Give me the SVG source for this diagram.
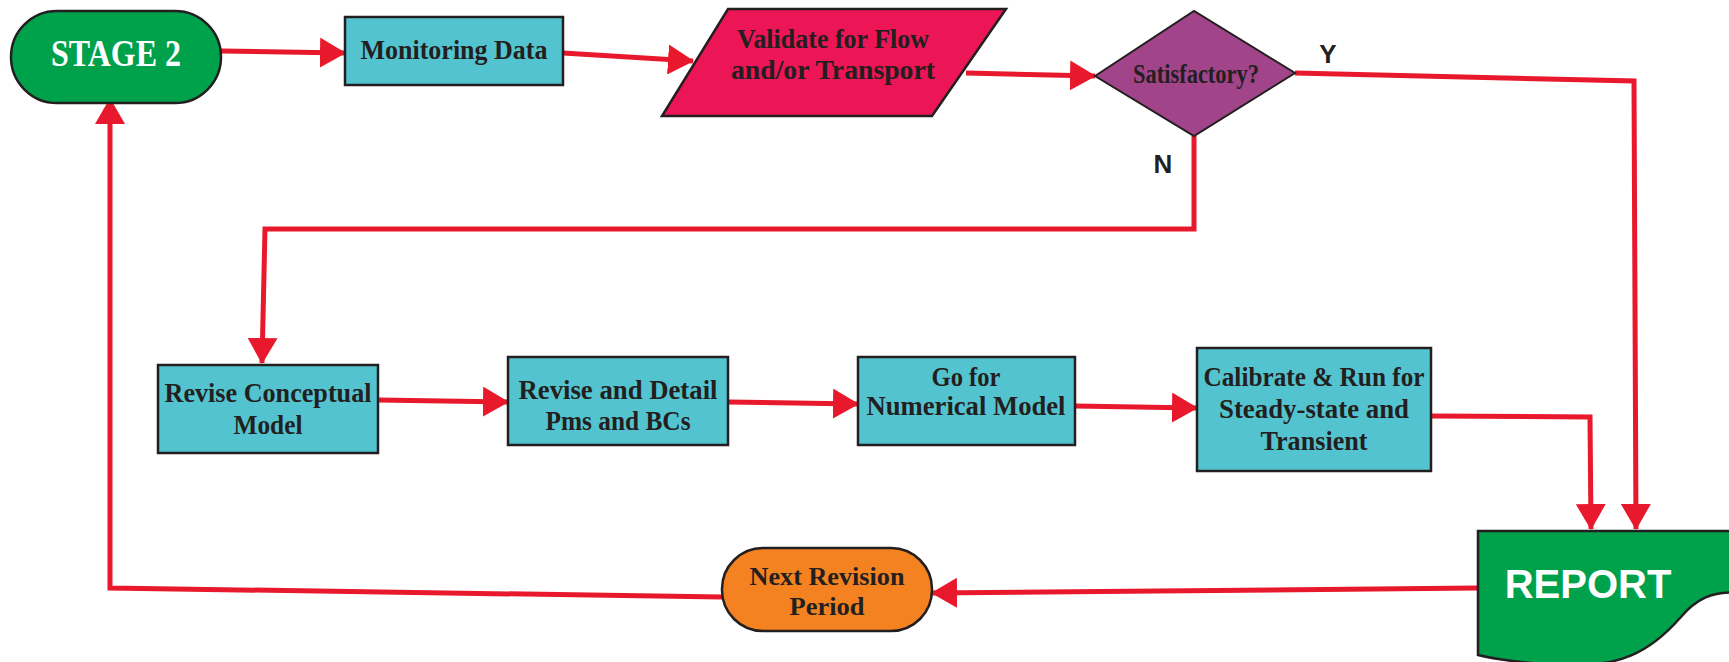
<svg xmlns="http://www.w3.org/2000/svg" width="1729" height="662" viewBox="0 0 1729 662">
<defs>
<style>
.bx{fill:#53C4CF;stroke:#231F20;stroke-width:2.5}
.t{font-family:"Liberation Serif",serif;font-weight:bold;fill:#231F20;text-anchor:middle}
.w{font-family:"Liberation Serif",serif;font-weight:bold;fill:#ffffff;text-anchor:middle}
.lbl{font-family:"Liberation Sans",Arial,sans-serif;font-weight:bold;fill:#231F20;text-anchor:middle}
.c{fill:none;stroke:#E8192C;stroke-width:5}
</style>
<marker id="ah" viewBox="0 0 26 30" refX="25" refY="15" markerWidth="26" markerHeight="30" orient="auto" markerUnits="userSpaceOnUse"><path d="M0,0 L26,15 L0,30 Z" fill="#E8192C"/></marker>
</defs>
<rect width="1729" height="662" fill="#ffffff"/>
<g id="connectors">
<path class="c" d="M221,51 L345,53" marker-end="url(#ah)"/>
<path class="c" d="M563,53 L693,61" marker-end="url(#ah)"/>
<path class="c" d="M966,73 L1095,76" marker-end="url(#ah)"/>
<path class="c" d="M1295,73 L1634,81 L1636,529" marker-end="url(#ah)"/>
<path class="c" d="M1194,136 L1194,229 L265,229 L262,363" marker-end="url(#ah)"/>
<path class="c" d="M378,400 L508,402" marker-end="url(#ah)"/>
<path class="c" d="M728,402 L858,404" marker-end="url(#ah)"/>
<path class="c" d="M1075,406 L1197,408" marker-end="url(#ah)"/>
<path class="c" d="M1431,416 L1590,417 L1591,529" marker-end="url(#ah)"/>
<path class="c" d="M1478,588 L932,593" marker-end="url(#ah)"/>
<path class="c" d="M722,597 L110,588 L110,99" marker-end="url(#ah)"/>
</g>
<g id="stage2">
<rect x="11" y="11" width="210" height="92" rx="46" fill="#00A14B" stroke="#231F20" stroke-width="2.5"/>
<text class="w" x="116" y="66" font-size="38" textLength="130" lengthAdjust="spacingAndGlyphs">STAGE 2</text>
</g>
<g id="monitoring">
<rect class="bx" x="345" y="17" width="218" height="68"/>
<text class="t" x="454" y="59" font-size="28" textLength="187" lengthAdjust="spacingAndGlyphs">Monitoring Data</text>
</g>
<g id="validate">
<polygon points="728,9 1006,9 932,116 662,116" fill="#EC1556" stroke="#231F20" stroke-width="2.5"/>
<text class="t" x="833" y="48" font-size="28" textLength="192" lengthAdjust="spacingAndGlyphs">Validate for Flow</text>
<text class="t" x="833" y="79" font-size="28" textLength="204" lengthAdjust="spacingAndGlyphs">and/or Transport</text>
</g>
<g id="satisfactory">
<polygon points="1095,76 1194,11 1295,73 1194,136" fill="#A1448A" stroke="#231F20" stroke-width="2"/>
<text class="t" x="1196" y="83" font-size="27" textLength="126" lengthAdjust="spacingAndGlyphs">Satisfactory?</text>
</g>
<text class="lbl" x="1328" y="63" font-size="26">Y</text>
<text class="lbl" x="1163" y="173" font-size="26">N</text>
<g id="reviseConceptual">
<rect class="bx" x="158" y="365" width="220" height="88"/>
<text class="t" x="268" y="402" font-size="28" textLength="207" lengthAdjust="spacingAndGlyphs">Revise Conceptual</text>
<text class="t" x="268" y="434" font-size="28" textLength="69" lengthAdjust="spacingAndGlyphs">Model</text>
</g>
<g id="reviseDetail">
<rect class="bx" x="508" y="357" width="220" height="88"/>
<text class="t" x="618" y="399" font-size="28" textLength="199" lengthAdjust="spacingAndGlyphs">Revise and Detail</text>
<text class="t" x="618" y="430" font-size="28" textLength="145" lengthAdjust="spacingAndGlyphs">Pms and BCs</text>
</g>
<g id="numerical">
<rect class="bx" x="858" y="357" width="217" height="88"/>
<text class="t" x="966" y="386" font-size="28" textLength="69" lengthAdjust="spacingAndGlyphs">Go for</text>
<text class="t" x="966" y="415" font-size="28" textLength="199" lengthAdjust="spacingAndGlyphs">Numerical Model</text>
</g>
<g id="calibrate">
<rect class="bx" x="1197" y="348" width="234" height="123"/>
<text class="t" x="1314" y="386" font-size="28" textLength="221" lengthAdjust="spacingAndGlyphs">Calibrate &amp; Run for</text>
<text class="t" x="1314" y="418" font-size="28" textLength="190" lengthAdjust="spacingAndGlyphs">Steady-state and</text>
<text class="t" x="1314" y="450" font-size="28" textLength="107" lengthAdjust="spacingAndGlyphs">Transient</text>
</g>
<g id="report">
<path d="M1478,531 L1740,531 L1740,593 C1712,590 1695,600 1680,618 C1650,652 1620,668 1560,665 C1520,663 1495,659 1478,655 Z" fill="#00A14B" stroke="#231F20" stroke-width="2.5"/>
<text x="1588" y="598" font-family="Liberation Sans, Arial, sans-serif" font-weight="bold" font-size="40" fill="#ffffff" text-anchor="middle">REPORT</text>
</g>
<g id="nextRevision">
<rect x="722" y="548" width="210" height="83" rx="41" fill="#F58220" stroke="#231F20" stroke-width="2.5"/>
<text class="t" x="827" y="585" font-size="26" textLength="155" lengthAdjust="spacingAndGlyphs">Next Revision</text>
<text class="t" x="827" y="615" font-size="26" textLength="75" lengthAdjust="spacingAndGlyphs">Period</text>
</g>
</svg>
